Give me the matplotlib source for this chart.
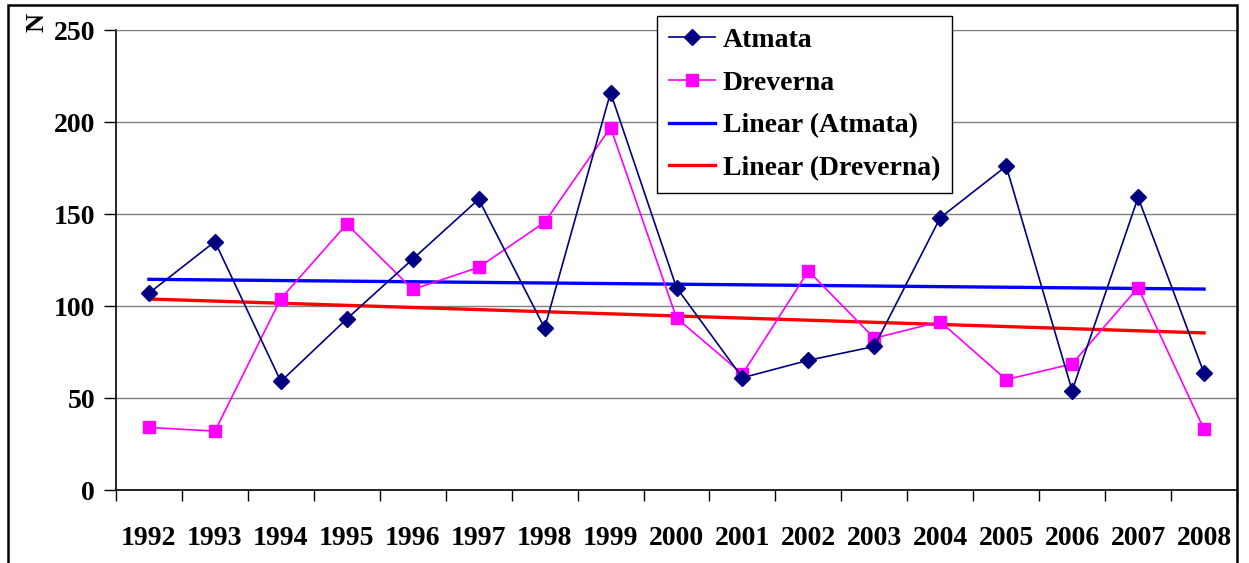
import matplotlib.pyplot as plt
import numpy as np
from matplotlib.patches import Rectangle

years = ['1992', '1993', '1994', '1995', '1996', '1997', '1998', '1999', '2000',
         '2001', '2002', '2003', '2004', '2005', '2006', '2007', '2008']
atmata = [107, 135, 59, 93, 125.5, 158, 88, 216, 110, 61, 70.5, 78, 148, 176, 54, 159, 63.5]
dreverna = [34, 32, 104, 144.5, 109, 121, 145.5, 197, 93.5, 63, 119, 82.5, 91.5, 60, 68.5, 110, 33]

plt.rcParams['font.family'] = ['Liberation Serif', 'DejaVu Serif']
plt.rcParams['font.weight'] = 'bold'

fig = plt.figure(figsize=(12.49, 5.63), dpi=100)
ax = fig.add_axes([116 / 1249, 1 - 490 / 563, (1237 - 116) / 1249, (490 - 30) / 563])

x = np.arange(len(years))
ax.plot(x, atmata, color='#000080', lw=1.2, marker='D', ms=8, label='Atmata', zorder=4)
ax.plot(x, dreverna, color='#FF00FF', lw=1.2, marker='s', ms=8, label='Dreverna', zorder=3)

# trend lines
pa = np.polyfit(x, atmata, 1)
pd_ = np.polyfit(x, dreverna, 1)
ax.plot(x, np.polyval(pa, x), color='#0000FF', lw=2.4, label='Linear (Atmata)', zorder=2)
ax.plot(x, np.polyval(pd_, x), color='#FF0000', lw=2.4, label='Linear (Dreverna)', zorder=2)

ax.set_xlim(-0.5, len(years) - 0.5)
ax.set_ylim(0, 250)
ax.set_yticks(range(0, 251, 50))
ax.set_xticks(x)
ax.set_xticklabels(years)
ax.set_xticks(np.arange(-0.5, len(years)), minor=True)
ax.tick_params(axis='x', which='major', length=0, pad=26, labelsize=20)
ax.tick_params(axis='x', which='minor', length=8, width=1, direction='out')
ax.tick_params(axis='y', length=9, width=1, direction='out', labelsize=20, pad=6)
ax.grid(axis='y', color='#808080', lw=1)
for s in ['top', 'right']:
    ax.spines[s].set_color('#808080')
for s in ['left', 'bottom']:
    ax.spines[s].set_color('black')
    ax.spines[s].set_linewidth(1.2)
ax.set_axisbelow(True)

leg = ax.legend(loc='upper left', bbox_to_anchor=((657 - 116) / 1121, (490 - 16) / 460),
                fontsize=20, frameon=True, fancybox=False, edgecolor='black',
                borderpad=0.42, labelspacing=0.62, handlelength=1.65, handletextpad=0.3,
                borderaxespad=0)
leg.get_frame().set_linewidth(1)
leg.get_frame().set_alpha(1)

fig.text(37 / 1249, 1 - 22 / 563, 'N', rotation=90, fontsize=19, fontweight='bold',
         ha='center', va='center')

fig.patches.append(Rectangle((8 / 1249, -0.05), (1237 - 8) / 1249, 1 - 5 / 563 + 0.05,
                             transform=fig.transFigure, fill=False, edgecolor='black', lw=1.8))

fig.savefig('out.png', dpi=100)
